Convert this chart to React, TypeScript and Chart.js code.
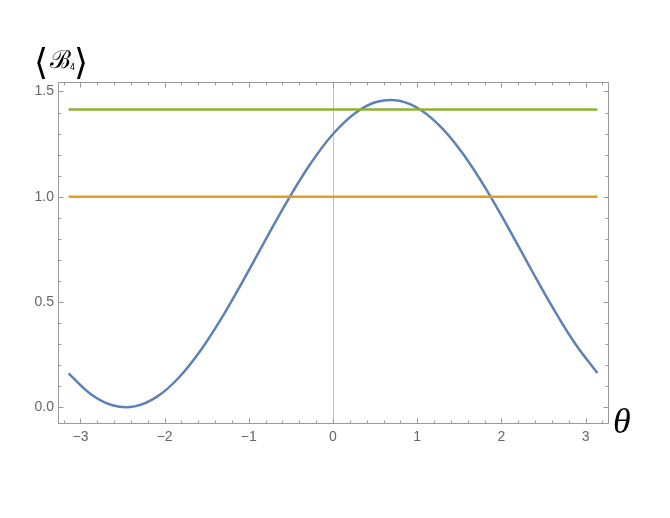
import React, { useEffect, useRef } from "react";
import { Chart, registerables } from "chart.js";

Chart.register(...registerables);

// theta samples (x, every pi/12) and the read-off values of <B4> (blue curve)
const thetaValues = [
  -3.1416, -2.8798, -2.618, -2.3562, -2.0944, -1.8326, -1.5708, -1.309, -1.0472,
  -0.7854, -0.5236, -0.2618, 0, 0.2618, 0.5236, 0.7854, 1.0472, 1.309, 1.5708,
  1.8326, 2.0944, 2.3562, 2.618, 2.8798, 3.1416,
];
const blueValues = [
  0.161, 0.063, 0.009, 0.004, 0.049, 0.14, 0.271, 0.433, 0.616,
  0.807, 0.992, 1.16, 1.298, 1.397, 1.451, 1.456, 1.411, 1.32, 1.189,
  1.027, 0.844, 0.653, 0.468, 0.3, 0.162,
];
// constant reference levels
const lineThetas = [-3.1416, 3.1416];
const orangeValues = [1.0, 1.0];
const greenValues = [1.414, 1.414];

const xTicks = [-3, -2, -1, 0, 1, 2, 3];
const xTickLabels = ["\u22123", "\u22122", "\u22121", "0", "1", "2", "3"];
const yTicks = [0, 0.5, 1.0, 1.5];
const yTickLabels = ["0.0", "0.5", "1.0", "1.5"];

const BLUE = "#5e81b5";
const ORANGE = "#e19c24";
const GREEN = "#8fb032";
const FRAME = "#9a9a9a";

const framePlugin = {
  id: "mmaFrame",
  beforeDatasetsDraw(chart: any) {
    const { ctx, chartArea: a, scales } = chart;
    const x = scales.x;
    ctx.save();
    ctx.strokeStyle = "#c4c4c4";
    ctx.lineWidth = 1;
    const zx = Math.round(x.getPixelForValue(0)) + 0.5;
    ctx.beginPath();
    ctx.moveTo(zx, a.top);
    ctx.lineTo(zx, a.bottom);
    ctx.stroke();
    ctx.restore();
  },
  afterDatasetsDraw(chart: any) {
    const { ctx, chartArea: a, scales } = chart;
    const x = scales.x;
    const y = scales.y;
    ctx.save();
    ctx.strokeStyle = FRAME;
    ctx.lineWidth = 1;
    const L = Math.round(a.left) + 0.5;
    const R = Math.round(a.right) + 0.5;
    const T = Math.round(a.top) + 0.5;
    const B = Math.round(a.bottom) + 0.5;
    ctx.strokeRect(L, T, R - L, B - T);
    ctx.beginPath();
    // x ticks (major at integers, minor every 0.2)
    for (let k = -16; k <= 16; k++) {
      const v = k * 0.2;
      if (v < x.min || v > x.max) continue;
      const major = k % 5 === 0;
      const len = major ? 5 : 3;
      const px = Math.round(x.getPixelForValue(v)) + 0.5;
      ctx.moveTo(px, B);
      ctx.lineTo(px, B - len);
      ctx.moveTo(px, T);
      ctx.lineTo(px, T + len);
    }
    // y ticks (major every 0.5, minor every 0.1)
    for (let k = -1; k <= 16; k++) {
      const v = k * 0.1;
      if (v < y.min || v > y.max) continue;
      const major = k % 5 === 0;
      const len = major ? 5 : 3;
      const py = Math.round(y.getPixelForValue(v)) + 0.5;
      ctx.moveTo(L, py);
      ctx.lineTo(L + len, py);
      ctx.moveTo(R, py);
      ctx.lineTo(R - len, py);
    }
    ctx.stroke();
    ctx.restore();
  },
  afterDraw(chart: any) {
    const { ctx } = chart;
    ctx.save();
    ctx.fillStyle = "#000";
    ctx.textBaseline = "alphabetic";
    // axis label theta
    ctx.font = "italic 36px 'Liberation Serif'";
    ctx.fillText("\u03b8", 613, 433);
    // y label <B_4>
    ctx.font = "36px 'DejaVu Sans'";
    ctx.fillText("\u27e8", 34, 74);
    ctx.font = "25px 'DejaVu Serif'";
    ctx.fillText("\u212c", 50, 68);
    ctx.font = "8px 'DejaVu Sans'";
    ctx.fillText("4", 70, 70);
    ctx.font = "36px 'DejaVu Sans'";
    ctx.fillText("\u27e9", 74, 74);
    ctx.restore();
  },
};

export default function App() {
  const ref = useRef<HTMLCanvasElement | null>(null);
  useEffect(() => {
    if (!ref.current) return;
    const chart = new Chart(ref.current, {
      type: "scatter",
      data: {
        datasets: [
          {
            label: "orange",
            data: lineThetas.map((t, i) => ({ x: t, y: orangeValues[i] })),
            showLine: true,
            borderColor: ORANGE,
            borderWidth: 2.5,
            pointRadius: 0,
          },
          {
            label: "green",
            data: lineThetas.map((t, i) => ({ x: t, y: greenValues[i] })),
            showLine: true,
            borderColor: GREEN,
            borderWidth: 2.5,
            pointRadius: 0,
          },
          {
            label: "B4",
            data: thetaValues.map((t, i) => ({ x: t, y: blueValues[i] })),
            showLine: true,
            borderColor: BLUE,
            borderWidth: 2.5,
            pointRadius: 0,
            tension: 0.4,
          },
        ],
      },
      options: {
        responsive: false,
        animation: false,
        layout: { padding: { left: 0, top: 82, right: 62, bottom: 0 } },
        plugins: {
          legend: { display: false },
          tooltip: { enabled: false },
        },
        scales: {
          x: {
            type: "linear",
            min: -3.267,
            max: 3.267,
            border: { display: false },
            grid: { display: false, drawTicks: false },
            afterBuildTicks: (s: any) => {
              s.ticks = xTicks.map((v) => ({ value: v }));
            },
            afterFit: (s: any) => {
              s.height = 95;
            },
            ticks: {
              padding: 6,
              maxRotation: 0,
              autoSkip: false,
              color: "#666",
              font: { family: "'Liberation Sans', Arial, sans-serif", size: 14 },
              callback: (v: any) => xTickLabels[xTicks.indexOf(Number(v))] ?? "",
            },
          },
          y: {
            type: "linear",
            min: -0.075,
            max: 1.545,
            border: { display: false },
            grid: { display: false, drawTicks: false },
            afterBuildTicks: (s: any) => {
              s.ticks = yTicks.map((v) => ({ value: v }));
            },
            afterFit: (s: any) => {
              s.width = 58;
            },
            ticks: {
              padding: 4,
              autoSkip: false,
              color: "#666",
              font: { family: "'Liberation Sans', Arial, sans-serif", size: 14 },
              callback: (v: any) => yTickLabels[yTicks.indexOf(Number(v))] ?? "",
            },
          },
        },
      },
      plugins: [framePlugin],
    } as any);
    return () => chart.destroy();
  }, []);
  return (
    <div style={{ position: "absolute", left: 0, top: 0, width: 670, height: 518, background: "#fff" }}>
      <canvas ref={ref} width={670} height={518} style={{ width: 670, height: 518, display: "block" }} />
    </div>
  );
}
